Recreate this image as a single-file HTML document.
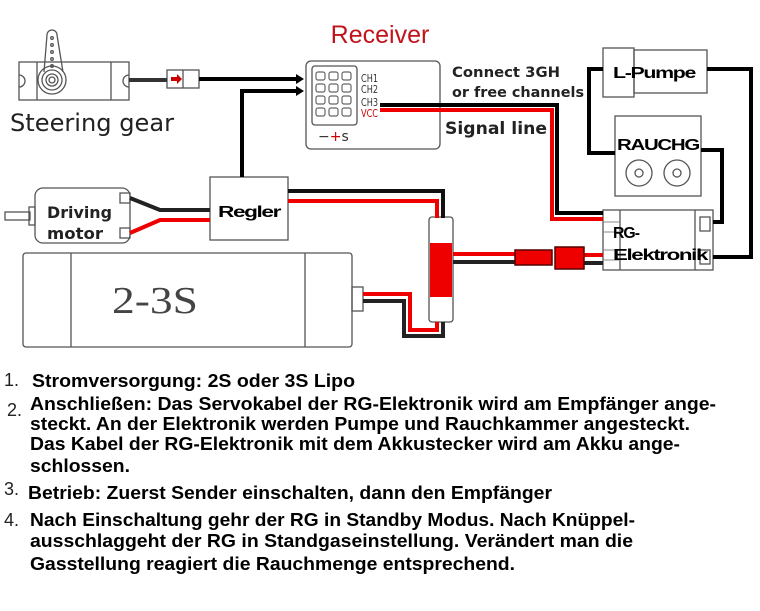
<!DOCTYPE html>
<html><head><meta charset="utf-8"><style>
html,body{margin:0;padding:0;background:#fff;}
svg{display:block;}
</style></head><body>
<svg width="760" height="611" viewBox="0 0 760 611" xmlns="http://www.w3.org/2000/svg">
<rect width="760" height="611" fill="#fff"/>
<g fill="none" stroke="#555" stroke-width="1.3">
<rect x="19" y="62" width="110" height="38"/>
<line x1="37" y1="62" x2="37" y2="100"/><line x1="111" y1="62" x2="111" y2="100"/>
<path d="M19 75 a6 6 0 0 1 0 12"/><path d="M129 75 a6 6 0 0 0 0 12"/>
<path d="M44 72 L47 35 a5 5 0 0 1 10 0 L63 72"/>
<circle cx="52" cy="80" r="14"/><circle cx="52" cy="80" r="10"/><circle cx="52" cy="80" r="6"/><circle cx="52" cy="80" r="3"/>
<circle cx="52" cy="38" r="1.3"/><circle cx="52" cy="45" r="1.3"/><circle cx="52" cy="52" r="1.3"/><circle cx="52" cy="59" r="1.3"/><circle cx="52" cy="66" r="1.3"/>
<rect x="167" y="70" width="32" height="18"/><line x1="183" y1="70" x2="183" y2="88"/>
<rect x="306" y="61" width="134" height="88" rx="5"/>
<rect x="312" y="66" width="45" height="59" rx="3"/>
<rect x="35" y="188" width="95" height="55" rx="8"/>
<rect x="5" y="212" width="25" height="8"/><rect x="29" y="207" width="6" height="18"/>
<rect x="120" y="193" width="10" height="10"/><rect x="120" y="228" width="10" height="10"/>
<rect x="210" y="177" width="78" height="63"/>
<rect x="23" y="253" width="329" height="94" rx="3"/>
<line x1="71" y1="253" x2="71" y2="347"/><line x1="305" y1="253" x2="305" y2="347"/>
<rect x="352" y="287" width="11" height="24"/>
<rect x="429" y="217" width="24" height="105" rx="3"/>
<rect x="603" y="48" width="31" height="49"/><rect x="634" y="50" width="73" height="43"/>
<rect x="615" y="116" width="86" height="80"/>
<circle cx="639" cy="173" r="13"/><circle cx="639" cy="173" r="4"/>
<circle cx="677" cy="173" r="13"/><circle cx="677" cy="173" r="4"/>
<rect x="603" y="210" width="110" height="60"/>
<line x1="620" y1="210" x2="620" y2="270"/><line x1="695" y1="210" x2="695" y2="270"/>
<rect x="700" y="217" width="10" height="14"/><rect x="700" y="250" width="10" height="14"/>
</g>
<g fill="none" stroke="#666" stroke-width="1.2">
<rect x="316" y="72" width="9" height="8" rx="2"/><rect x="329" y="72" width="9" height="8" rx="2"/><rect x="342" y="72" width="9" height="8" rx="2"/>
<rect x="316" y="84" width="9" height="8" rx="2"/><rect x="329" y="84" width="9" height="8" rx="2"/><rect x="342" y="84" width="9" height="8" rx="2"/>
<rect x="316" y="96" width="9" height="8" rx="2"/><rect x="329" y="96" width="9" height="8" rx="2"/><rect x="342" y="96" width="9" height="8" rx="2"/>
<rect x="316" y="108" width="9" height="8" rx="2"/><rect x="329" y="108" width="9" height="8" rx="2"/><rect x="342" y="108" width="9" height="8" rx="2"/>
</g>
<rect x="430" y="243" width="22" height="54" fill="#e00"/>
<g fill="none" stroke-width="4">
<line x1="129" y1="80" x2="167" y2="80" stroke="#333"/>
<polyline points="199,79 296,79" stroke="#000"/>
<polyline points="242,177 242,91 296,91" stroke="#000"/>
<polyline points="130,198 160,210 210,210" stroke="#222"/>
<polyline points="130,233 160,220 210,220" stroke="#e00"/>
<polyline points="288,191 443,191 443,218" stroke="#111"/>
<polyline points="288,201 437,201 437,218" stroke="#e00"/>
<polyline points="380,105 557,105 557,213 603,213" stroke="#000"/>
<polyline points="380,110 552,110 552,219 603,219" stroke="#e00"/>
<polyline points="363,294 410,294 410,330 437,330 437,322" stroke="#e00"/>
<polyline points="363,301 404,301 404,336 443,336 443,322" stroke="#222"/>
<line x1="453" y1="254" x2="515" y2="254" stroke="#e00"/>
<line x1="453" y1="262" x2="515" y2="262" stroke="#222"/>
<line x1="584" y1="255" x2="603" y2="255" stroke="#e00"/>
<line x1="584" y1="263" x2="603" y2="263" stroke="#222"/>
<polyline points="603,69 589,69 589,153 615,153" stroke="#000"/>
<polyline points="701,150 722,150 722,222 713,222" stroke="#000"/>
<polyline points="707,69 751,69 751,257 713,257" stroke="#000"/>
</g>
<polygon points="296,74 304,79 296,84" fill="#000"/>
<polygon points="296,86 304,91 296,96" fill="#000"/>
<polygon points="171,77 177,77 177,74 182,79 177,84 177,81 171,81" fill="#c00"/>
<rect x="515" y="250" width="37" height="15" fill="#e00" stroke="#500" stroke-width="1.5"/>
<rect x="555" y="247" width="29" height="22" fill="#e00" stroke="#500" stroke-width="1.5"/>
<g stroke="#888" stroke-width="1"><line x1="603" y1="222" x2="620" y2="222"/><line x1="603" y1="232" x2="620" y2="232"/><line x1="603" y1="250" x2="620" y2="250"/><line x1="603" y1="260" x2="620" y2="260"/></g>
<text x="380" y="43" font-family="Liberation Sans, sans-serif" font-size="25" fill="#c0141c" text-anchor="middle">Receiver</text>
<text x="10" y="131" font-family="DejaVu Sans, sans-serif" font-size="24" fill="#222" textLength="164" lengthAdjust="spacingAndGlyphs">Steering gear</text>
<g font-family="DejaVu Sans, sans-serif" font-size="11" fill="#333">
<text x="361" y="82" textLength="17" lengthAdjust="spacingAndGlyphs">CH1</text>
<text x="361" y="93" textLength="17" lengthAdjust="spacingAndGlyphs">CH2</text>
<text x="361" y="106" textLength="17" lengthAdjust="spacingAndGlyphs">CH3</text>
<text x="361" y="117" textLength="17" lengthAdjust="spacingAndGlyphs" fill="#c00">VCC</text>
</g>
<text x="318" y="141" font-family="DejaVu Sans, sans-serif" font-size="14" fill="#333">−<tspan fill="#c00">+</tspan>s</text>
<g font-family="DejaVu Sans, sans-serif" font-weight="bold" fill="#222">
<text x="452" y="77" font-size="14" textLength="108" lengthAdjust="spacingAndGlyphs">Connect 3GH</text>
<text x="452" y="97" font-size="14" textLength="132" lengthAdjust="spacingAndGlyphs">or free channels</text>
<text x="445" y="134" font-size="17" textLength="102" lengthAdjust="spacingAndGlyphs">Signal line</text>
<text x="47" y="218" font-size="16" textLength="65" lengthAdjust="spacingAndGlyphs">Driving</text>
<text x="47" y="239" font-size="16" textLength="56" lengthAdjust="spacingAndGlyphs">motor</text>
</g>
<text x="112" y="313" font-family="Liberation Serif, serif" font-size="38" fill="#444" textLength="86" lengthAdjust="spacingAndGlyphs">2-3S</text>
<g font-family="Liberation Sans, sans-serif" font-weight="bold" fill="#000" letter-spacing="-1">
<text x="218" y="217" font-size="16" textLength="62" lengthAdjust="spacingAndGlyphs">Regler</text>
<text x="613" y="78" font-size="16" textLength="82" lengthAdjust="spacingAndGlyphs">L-Pumpe</text>
<text x="617" y="150" font-size="16" textLength="82" lengthAdjust="spacingAndGlyphs">RAUCHG</text>
<text x="613" y="238" font-size="16" textLength="26" lengthAdjust="spacingAndGlyphs">RG-</text>
<text x="613" y="260" font-size="16" textLength="94" lengthAdjust="spacingAndGlyphs">Elektronik</text>
</g>
<g font-family="Liberation Sans, sans-serif" fill="#222" font-size="18">
<text x="4" y="386">1.</text><text x="7" y="416">2.</text><text x="4" y="495">3.</text><text x="4" y="526">4.</text>
</g>
<g font-family="Liberation Sans, sans-serif" font-weight="bold" fill="#000" font-size="18">
<text x="32" y="387" textLength="323" lengthAdjust="spacingAndGlyphs">Stromversorgung: 2S oder 3S Lipo</text>
<text x="30" y="410" textLength="686" lengthAdjust="spacingAndGlyphs">Anschließen: Das Servokabel der RG-Elektronik wird am Empfänger ange-</text>
<text x="30" y="430" textLength="660" lengthAdjust="spacingAndGlyphs">steckt. An der Elektronik werden Pumpe und Rauchkammer angesteckt.</text>
<text x="30" y="450" textLength="650" lengthAdjust="spacingAndGlyphs">Das Kabel der RG-Elektronik mit dem Akkustecker wird am Akku ange-</text>
<text x="30" y="472" textLength="100" lengthAdjust="spacingAndGlyphs">schlossen.</text>
<text x="28" y="499" textLength="524" lengthAdjust="spacingAndGlyphs">Betrieb: Zuerst Sender einschalten, dann den Empfänger</text>
<text x="30" y="526" textLength="605" lengthAdjust="spacingAndGlyphs">Nach Einschaltung gehr der RG in Standby Modus. Nach Knüppel-</text>
<text x="30" y="547" textLength="603" lengthAdjust="spacingAndGlyphs">ausschlaggeht der RG in Standgaseinstellung. Verändert man die</text>
<text x="30" y="570" textLength="485" lengthAdjust="spacingAndGlyphs">Gasstellung reagiert die Rauchmenge entsprechend.</text>
</g>
</svg>
</body></html>
